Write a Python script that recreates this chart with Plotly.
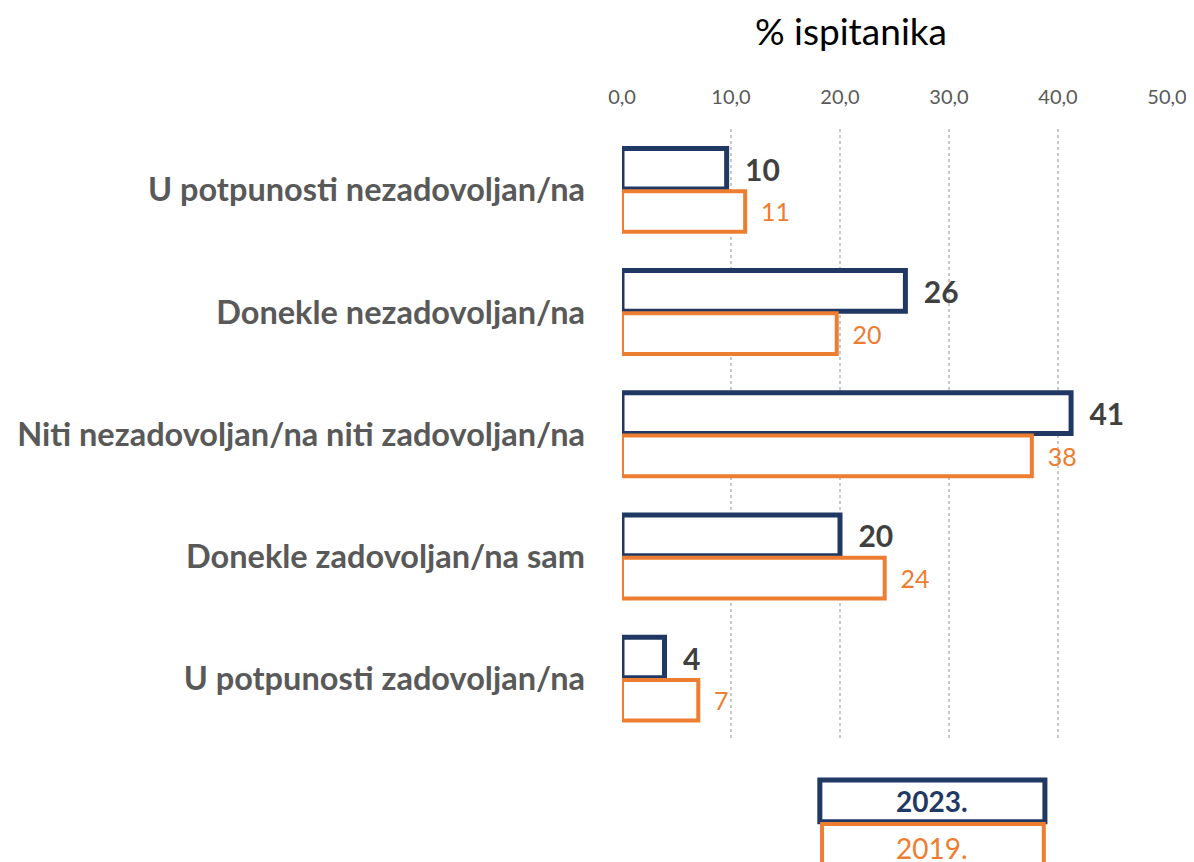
import plotly.graph_objects as go

categories = [
    "U potpunosti nezadovoljan/na",
    "Donekle nezadovoljan/na",
    "Niti nezadovoljan/na niti zadovoljan/na",
    "Donekle zadovoljan/na sam",
    "U potpunosti zadovoljan/na",
]
values_2023 = [9.6, 26.0, 41.2, 20.0, 3.9]
values_2019 = [11.3, 19.7, 37.6, 24.1, 7.0]
labels_2023 = ["10", "26", "41", "20", "4"]
labels_2019 = ["11", "20", "38", "24", "7"]
series_names = ["2023.", "2019."]
tick_vals = [0, 10, 20, 30, 40, 50]

NAVY = "#1F3864"
ORANGE = "#ED7D31"
FONT = "Lato"

fig = go.Figure()
fig.add_trace(go.Bar(
    y=categories, x=values_2023, orientation="h", name=series_names[0],
    marker=dict(color="white", line=dict(color=NAVY, width=5)),
    text=labels_2023, texttemplate="  <b>%{text}</b>", textposition="outside",
    textfont=dict(family=FONT, size=30, color="#404040"), cliponaxis=False,
))
fig.add_trace(go.Bar(
    y=categories, x=values_2019, orientation="h", name=series_names[1],
    marker=dict(color="white", line=dict(color=ORANGE, width=4)),
    text=labels_2019, texttemplate="  %{text}", textposition="outside",
    textfont=dict(family=FONT, size=25, color=ORANGE), cliponaxis=False,
))

fig.update_layout(
    width=1194, height=862,
    margin=dict(l=614, r=35, t=121, b=130),
    paper_bgcolor="white", plot_bgcolor="white",
    barmode="group", bargap=0.3, bargroupgap=0.05,
    showlegend=False, separators=",.",
    title=dict(text="% ispitanika", x=0.706, xanchor="center", y=0.972, yanchor="middle",
               font=dict(family=FONT, size=37, color="black")),
    font=dict(family=FONT),
)
fig.update_xaxes(
    side="top", range=[0, 50], tickvals=tick_vals, tickformat=".1f",
    showgrid=True, gridcolor="#C8C8C8", griddash="dot", gridwidth=1.5,
    zeroline=False, showline=False, ticks="", ticklabelstandoff=20,
    tickfont=dict(family=FONT, size=20, color="#595959"), automargin=False,
)
fig.update_yaxes(
    autorange="reversed", showgrid=False, showline=False, ticks="",
    ticklabelstandoff=36, automargin=False,
    tickfont=dict(family=FONT, size=32.5, color="#595959", weight="bold"),
)

# legend boxes drawn under the plot
fig.add_shape(type="rect", xref="paper", yref="paper", x0=0.363, x1=0.776, y0=-0.0655, y1=-0.134,
              line=dict(color=NAVY, width=5), fillcolor="white", layer="above")
fig.add_shape(type="rect", xref="paper", yref="paper", x0=0.367, x1=0.774, y0=-0.1375, y1=-0.215,
              line=dict(color=ORANGE, width=4), fillcolor="white", layer="above")
fig.add_annotation(xref="paper", yref="paper", x=0.5695, y=-0.10, text="<b>" + series_names[0] + "</b>",
                   showarrow=False, font=dict(family=FONT, size=28, color=NAVY), yanchor="middle")
fig.add_annotation(xref="paper", yref="paper", x=0.5695, y=-0.1775, text=series_names[1],
                   showarrow=False, font=dict(family=FONT, size=28, color=ORANGE), yanchor="middle")

fig.write_html("out.html")
